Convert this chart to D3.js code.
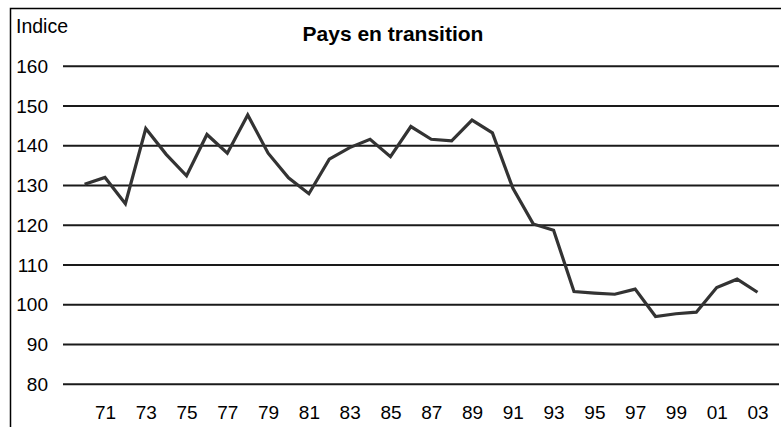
<!DOCTYPE html>
<html>
<head>
<meta charset="utf-8">
<script src="https://cdn.jsdelivr.net/npm/d3@7"></script>
<style>
  body { margin: 0; background: #fff; }
  svg { display: block; font-family: Arial, "Liberation Sans", sans-serif; }
</style>
</head>
<body>
<div id="chart"></div>
<script>
// data
const years = d3.range(1970, 2004);
const indexValues = [130.2, 131.9, 125.3, 144.2, 137.7, 132.3, 142.7, 138.0, 147.6, 138.0,
    131.8, 127.8, 136.5, 139.4, 141.5, 137.1, 144.7, 141.5, 141.1, 146.3,
    143.1, 129.2, 120.2, 118.6, 103.2, 102.8, 102.5, 103.8, 96.9, 97.6,
    98.0, 104.2, 106.3, 103.0];
const yTicks = [80, 90, 100, 110, 120, 130, 140, 150, 160];
const xTickYears = d3.range(1971, 2004, 2);

const width = 781;
const height = 427;
const margin = {left: 63, right: 2};

const svg = d3.select('#chart')
    .append('svg')
    .attr('width', width)
    .attr('height', height);

// frame (top + left only visible)
svg.append('path')
    .attr('d', `M10.5,${height} V8.5 H${width}`)
    .attr('fill', 'none')
    .attr('stroke', '#000')
    .attr('stroke-width', 1.5);

// Horizontal scale
const scaleX = d3.scaleLinear()
    .domain([1970, 2003])
    .range([84.6, 757.5]);

// Vertical scale
const scaleY = d3.scaleLinear()
    .domain([80, 160])
    .range([383.7, 65.7]);

// gridlines + y labels
const yAxis = svg.append('g')
    .call(d3.axisLeft(scaleY)
        .tickValues(yTicks)
        .tickSize(0)
        .tickPadding(0));
yAxis.select('.domain').remove();
yAxis.selectAll('.tick line')
    .attr('x1', margin.left)
    .attr('x2', width - margin.right)
    .attr('stroke', '#1a1a1a')
    .attr('stroke-width', 2);
yAxis.selectAll('.tick text')
    .attr('x', 48)
    .attr('dy', '0.35em')
    .attr('text-anchor', 'end')
    .attr('fill', '#000')
    .style('font-size', '19px');

// x labels
const xAxis = svg.append('g')
    .attr('transform', 'translate(0, 419)')
    .call(d3.axisBottom(scaleX)
        .tickValues(xTickYears)
        .tickSize(0)
        .tickPadding(0)
        .tickFormat(d => String(d).slice(2)));
xAxis.select('.domain').remove();
xAxis.selectAll('.tick text')
    .attr('y', 0)
    .attr('dy', 0)
    .attr('fill', '#000')
    .style('font-size', '19px');

// the line
const line = d3.line()
    .x((d, i) => scaleX(years[i]))
    .y(d => scaleY(d));

svg.append('path')
    .datum(indexValues)
    .attr('d', line)
    .attr('fill', 'none')
    .attr('stroke', '#333')
    .attr('stroke-width', 3.2)
    .attr('stroke-linejoin', 'miter');

// titles
svg.append('text')
    .attr('x', 16)
    .attr('y', 32.5)
    .style('font-size', '19.5px')
    .text('Indice');

svg.append('text')
    .attr('x', 393)
    .attr('y', 41)
    .attr('text-anchor', 'middle')
    .style('font-size', '21px')
    .style('font-weight', 'bold')
    .text('Pays en transition');
</script>
</body>
</html>
